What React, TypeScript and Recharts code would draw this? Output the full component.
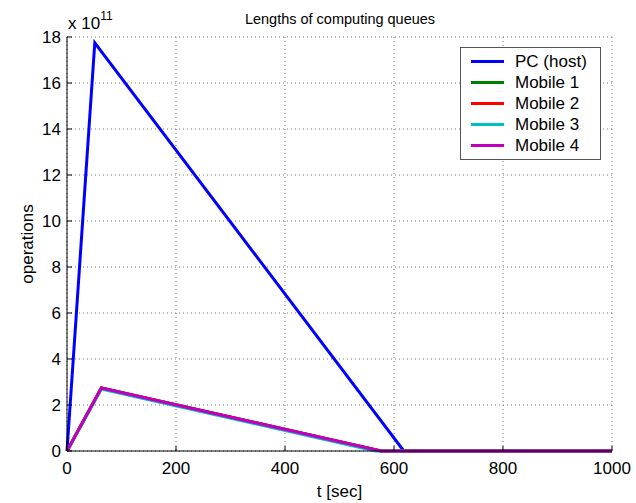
import React from "react";
import { LineChart, Line, XAxis, YAxis, CartesianGrid } from "recharts";

// time stamps [sec] and queue lengths [operations]
const pcT = [0, 51, 618, 1000];
const pcQ = [0, 17.75e11, 0, 0];
const mobileT = [0, 63, 576, 1000];
const mobileQ = [0, 2.74e11, 0, 0];
const mobile3T = [0, 63, 566, 1000];
const mobile3Q = [0, 2.69e11, 0, 0];

const xTicks = [0, 200, 400, 600, 800, 1000];
const yTicks = [0, 2e11, 4e11, 6e11, 8e11, 10e11, 12e11, 14e11, 16e11, 18e11];

const toPoints = (ts: number[], qs: number[]) => ts.map((t, i) => ({ t, q: qs[i] }));

const series = [
  { name: "PC (host)", color: "#0000ff", data: toPoints(pcT, pcQ) },
  { name: "Mobile 1", color: "#008000", data: toPoints(mobileT, mobileQ) },
  { name: "Mobile 2", color: "#ff0000", data: toPoints(mobileT, mobileQ) },
  { name: "Mobile 3", color: "#00bfbf", data: toPoints(mobile3T, mobile3Q) },
  { name: "Mobile 4", color: "#bf00bf", data: toPoints(mobileT, mobileQ) },
];

const FONT = "Liberation Sans, Arial, sans-serif";
const tickStyle = { fill: "#000", fontSize: 17, fontFamily: FONT };

function LegendBox() {
  return (
    <div
      style={{
        position: "absolute",
        left: 460,
        top: 47,
        width: 141,
        boxSizing: "border-box",
        border: "1px solid #555",
        background: "#fff",
        padding: "3px 0 3px 10px",
        fontFamily: FONT,
        fontSize: 17,
        lineHeight: "21px",
        color: "#000",
      }}
    >
      {series.map((s) => (
        <div key={s.name} style={{ display: "flex", alignItems: "center" }}>
          <span style={{ display: "inline-block", width: 33, height: 3, background: s.color, marginRight: 11 }} />
          {s.name}
        </div>
      ))}
    </div>
  );
}

export default function App() {
  return (
    <div style={{ position: "absolute", left: 0, top: 0, width: 636, height: 503, background: "#fff" }}>
      <LineChart width={636} height={503} margin={{ top: 37, right: 24, bottom: 0, left: 7 }}>
        <CartesianGrid stroke="#777" strokeDasharray="1 3" />
        <XAxis
          dataKey="t"
          type="number"
          domain={[0, 1000]}
          ticks={xTicks}
          tickSize={-5}
          tickMargin={16}
          stroke="#000"
          tick={tickStyle}
          height={52}
          label={{ value: "t [sec]", position: "insideBottom", offset: 6, fill: "#000", fontSize: 17, fontFamily: FONT }}
          allowDuplicatedCategory={false}
        />
        <XAxis
          xAxisId="top"
          orientation="top"
          type="number"
          domain={[0, 1000]}
          ticks={xTicks}
          tickSize={-5}
          tickFormatter={() => ""}
          stroke="#000"
          height={0}
        />
        <YAxis
          type="number"
          domain={[0, 18e11]}
          ticks={yTicks}
          tickSize={-5}
          tickMargin={11}
          tickFormatter={(v: number) => String(Math.round(v / 1e11))}
          stroke="#000"
          tick={tickStyle}
          width={60}
          label={{ value: "operations", angle: -90, position: "insideLeft", offset: 20, fill: "#000", fontSize: 17, fontFamily: FONT, style: { textAnchor: "middle" } }}
        />
        <YAxis
          yAxisId="right"
          orientation="right"
          type="number"
          domain={[0, 18e11]}
          ticks={yTicks}
          tickSize={-5}
          tickFormatter={() => ""}
          stroke="#000"
          width={0}
        />
        {series.map((s) => (
          <Line
            key={s.name}
            data={s.data}
            dataKey="q"
            name={s.name}
            stroke={s.color}
            strokeWidth={3}
            dot={false}
            type="linear"
            isAnimationActive={false}
          />
        ))}
        <text x={340} y={24} textAnchor="middle" fontSize={14.5} fontFamily={FONT} fill="#000">
          Lengths of computing queues
        </text>
        <text x={68} y={29} fontSize={17} fontFamily={FONT} fill="#000">
          x 10<tspan dy={-9} fontSize={12}>11</tspan>
        </text>
      </LineChart>
      <LegendBox />
    </div>
  );
}
